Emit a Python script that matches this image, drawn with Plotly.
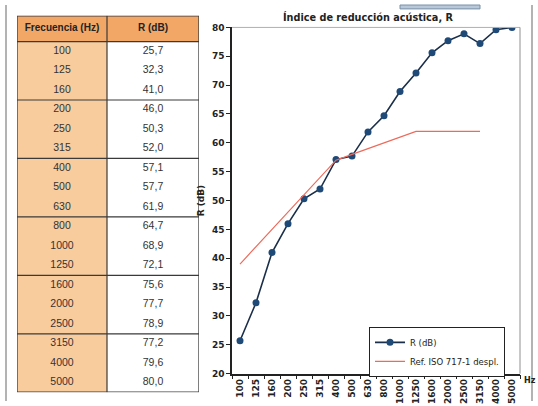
import plotly.graph_objects as go

freqs = ["100", "125", "160", "200", "250", "315", "400", "500", "630", "800",
         "1000", "1250", "1600", "2000", "2500", "3150", "4000", "5000"]
r_db = [25.7, 32.3, 41.0, 46.0, 50.3, 52.0, 57.1, 57.7, 61.9, 64.7,
        68.9, 72.1, 75.6, 77.7, 78.9, 77.2, 79.6, 80.0]
r_db_text = ["25,7", "32,3", "41,0", "46,0", "50,3", "52,0", "57,1", "57,7", "61,9", "64,7",
             "68,9", "72,1", "75,6", "77,7", "78,9", "77,2", "79,6", "80,0"]
ref_freqs = ["100", "125", "160", "200", "250", "315", "400", "500", "630", "800",
             "1000", "1250", "1600", "2000", "2500", "3150"]
ref_iso = [39, 42, 45, 48, 51, 54, 57, 58, 59, 60, 61, 62, 62, 62, 62, 62]
y_ticks = [20, 25, 30, 35, 40, 45, 50, 55, 60, 65, 70, 75, 80]
headers = ["Frecuencia (Hz)", "R (dB)"]

W, H = 538, 406
def px(x): return x / W
def py(y): return 1 - y / H

FONT = "DejaVu Sans"
TFONT = "Liberation Sans, sans-serif"
HDR_FILL = "#f2a766"
COL1_FILL = "#f9cc9e"
EDGE = "#3a3a3a"

n = len(freqs)
col_w = [90, 92]
col_x = [col_w[0] / 2, col_w[0] + col_w[1] / 2]
hdr_rows = 1.325          # header height in row units
y_top, y_bot = -0.5 - hdr_rows, n - 0.5
hdr_mid = -0.5 - hdr_rows / 2

fig = go.Figure()

# ---- table drawn on its own (hidden) axes ----
fig.add_trace(go.Scatter(
    x=[col_x[0]] * n, y=list(range(n)), text=freqs, mode="text",
    textfont=dict(family=TFONT, size=10.5, color="#333"),
    xaxis="x2", yaxis="y2", showlegend=False, hoverinfo="skip"))
fig.add_trace(go.Scatter(
    x=[col_x[1]] * n, y=list(range(n)), text=r_db_text, mode="text",
    textfont=dict(family=TFONT, size=10.5, color="#333"),
    xaxis="x2", yaxis="y2", showlegend=False, hoverinfo="skip"))
fig.add_trace(go.Scatter(
    x=col_x, y=[hdr_mid, hdr_mid], text=["<b>%s</b>" % h for h in headers], mode="text",
    textfont=dict(family=TFONT, size=10, color="#222"),
    xaxis="x2", yaxis="y2", showlegend=False, hoverinfo="skip"))

# ---- chart traces ----
fig.add_trace(go.Scatter(
    x=freqs, y=r_db, mode="lines+markers", name="R (dB)",
    line=dict(color="#1b2f4a", width=1.6),
    marker=dict(color="#1f4a78", size=7),
))
fig.add_trace(go.Scatter(
    x=ref_freqs, y=ref_iso, mode="lines", name="Ref. ISO 717-1 despl.",
    line=dict(color="#ee6a5a", width=1.2),
))

total_w = col_w[0] + col_w[1]
shapes = [
    dict(type="rect", xref="x2", yref="y2", x0=0, x1=total_w, y0=y_top, y1=-0.5,
         fillcolor=HDR_FILL, line=dict(width=0), layer="below"),
    dict(type="rect", xref="x2", yref="y2", x0=0, x1=col_w[0], y0=-0.5, y1=y_bot,
         fillcolor=COL1_FILL, line=dict(width=0), layer="below"),
    dict(type="rect", xref="x2", yref="y2", x0=0, x1=total_w, y0=y_top, y1=y_bot,
         line=dict(color=EDGE, width=1.3)),
    dict(type="line", xref="x2", yref="y2", x0=col_w[0], x1=col_w[0], y0=y_top, y1=y_bot,
         line=dict(color=EDGE, width=1.2)),
]
for k in range(0, n, 3):
    shapes.append(dict(type="line", xref="x2", yref="y2", x0=0, x1=total_w,
                       y0=k - 0.5, y1=k - 0.5, line=dict(color=EDGE, width=1.2)))

def line(x0, y0, x1, y1, color, w):
    shapes.append(dict(type="line", xref="paper", yref="paper",
                       x0=px(x0), y0=py(y0), x1=px(x1), y1=py(y1),
                       line=dict(color=color, width=w)))
# outer frame of scan
line(6, 0, 6, H, "#9a9a9a", 1.5)
line(532, 0, 532, H, "#9a9a9a", 1.5)
shapes.append(dict(type="rect", xref="paper", yref="paper",
                   x0=px(400), x1=px(480), y0=py(4), y1=py(0),
                   fillcolor="#b8c8d8", line=dict(color="#7890a8", width=1)))
# plot border top/right
line(232, 23, 520, 23, "#b0b0b0", 1)
line(520, 23, 520, 378, "#909090", 1)

fig.update_layout(
    width=W, height=H,
    margin=dict(l=0, r=0, t=0, b=0),
    paper_bgcolor="white", plot_bgcolor="white",
    font=dict(family=FONT, size=9, color="#222"),
    shapes=shapes,
    showlegend=True,
    legend=dict(x=px(369), y=py(330), xanchor="left", yanchor="top",
                bgcolor="white", bordercolor="#222", borderwidth=1,
                font=dict(family=FONT, size=8.5, color="#222"),
                tracegroupgap=2, itemwidth=30,
                entrywidth=112, entrywidthmode="pixels"),
    xaxis=dict(domain=[px(232), px(520)], type="category",
               categoryorder="array", categoryarray=freqs,
               range=[-0.5, len(freqs) - 0.5],
               tickangle=-90, showgrid=False, showline=True,
               linecolor="#222", linewidth=1.5,
               ticks="outside", tickson="boundaries", ticklen=4, tickcolor="#222",
               tickfont=dict(family=FONT, size=9, color="#222", weight="bold"),
               fixedrange=True),
    yaxis=dict(domain=[py(378), py(23)], range=[20, 80],
               tickvals=y_ticks, showgrid=False, showline=True,
               linecolor="#222", linewidth=1.5,
               ticks="outside", ticklen=4, tickcolor="#222",
               tickfont=dict(family=FONT, size=9, color="#222", weight="bold"),
               title=dict(text="<b>R (dB)</b>", font=dict(family=FONT, size=9), standoff=6),
               zeroline=False),
    xaxis2=dict(domain=[px(17), px(199)], range=[0, total_w], visible=False,
                fixedrange=True),
    yaxis2=dict(domain=[py(397), py(11)], range=[y_bot, y_top], visible=False,
                fixedrange=True),
    annotations=[
        dict(text="<b>Índice de reducción acústica, R</b>", xref="paper", yref="paper",
             x=px(368), y=py(12), showarrow=False, xanchor="center", yanchor="middle",
             font=dict(family=FONT, size=9.7, color="#222")),
        dict(text="<b>Hz</b>", xref="paper", yref="paper",
             x=px(530), y=py(385), showarrow=False, xanchor="center", yanchor="middle",
             font=dict(family=FONT, size=8, color="#222")),
    ],
)

fig.write_html("out.html")
